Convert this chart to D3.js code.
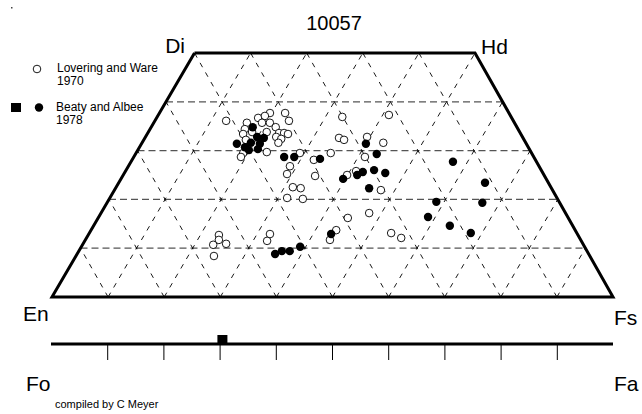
<!DOCTYPE html>
<html>
<head>
<meta charset="utf-8">
<script src="https://cdn.jsdelivr.net/npm/d3@7"></script>
<style>
  body { margin: 0; background: #fff; }
  text { font-family: "Liberation Sans", Arial, sans-serif; fill: #000; }
</style>
</head>
<body>
<div id="chart"></div>
<script>
// Chart size
const width = 642,
      height = 414;

// Lovering and Ware 1970 (open circles): Wo and Fs in mol %
const lwWo = [36.1, 37.7, 37.7, 36.1, 35.7, 36.7, 37.1, 35.7, 35.7, 34.4, 33.8, 33.8, 33.4, 32.2, 29.5,
              28.7, 29.7, 34.8, 33.6, 33.6, 33.4, 32.8, 32.4, 31.6, 29.5, 26.8, 25.2, 28.1, 24.8, 22.5,
              22.3, 36.9, 37.3, 32.6, 32.2, 32.8, 31.6, 29.5, 28.7, 25.0, 25.8, 20.3, 20.1, 21.9, 16.2,
              17.2, 13.7, 11.7, 13.1, 12.1, 12.7, 11.7, 10.7, 10.9, 8.4, 12.9, 11.5];
const lwFs = [12.7, 19.7, 22.4, 23.9, 16.6, 18.1, 19.1, 19.3, 20.7, 16.9, 18.5, 21.1, 17.1, 18.2, 19.1,
              19.1, 23.2, 22.2, 23.4, 24.3, 25.1, 23.3, 24.4, 24.3, 29.2, 28.8, 29.1, 32.4, 34.3, 31.5,
              33.0, 33.0, 41.1, 34.6, 35.7, 39.5, 43.0, 34.7, 41.2, 39.9, 41.1, 31.6, 34.5, 47.5, 44.5,
              47.8, 43.7, 43.6, 53.8, 56.1, 23.3, 23.8, 23.3, 25.5, 24.6, 32.3, 32.5];

// Beaty and Albee 1978 (filled circles)
const baWo = [34.8, 32.8, 32.6, 31.4, 31.6, 30.7, 30.1, 30.3, 31.4, 28.7, 28.7, 28.3, 31.4, 29.3, 24.2, 25.0,
              25.6, 26.0, 25.4, 22.3, 27.7, 23.4, 19.5, 19.3, 16.4, 14.6, 13.1, 12.9, 8.8, 9.4, 9.4, 10.3];
const baFs = [18.1, 19.9, 21.2, 17.0, 19.4, 18.8, 19.8, 21.3, 21.1, 26.8, 28.6, 33.4, 40.0, 43.0, 39.6, 41.7,
              42.4, 44.2, 46.5, 45.2, 57.4, 65.3, 58.6, 66.9, 58.7, 63.5, 68.0, 43.2, 35.3, 36.2, 37.6, 39.0];

// Olivine (Beaty and Albee), Fa mol %
const olivineFa = [30.5];

// Grid steps and labels
const gridSteps = [10, 20, 30, 40, 50, 60, 70, 80, 90];
const woSteps = [10, 20, 30, 40];
const cornerLabels = ["Di", "Hd", "En", "Fs"];

const svg = d3.select("#chart").append("svg")
    .attr("width", width)
    .attr("height", height);

// Ternary projection built from linear scales
const fsScale = d3.scaleLinear().domain([0, 100]).range([52, 613]);
const woY = d3.scaleLinear().domain([0, 50]).range([297, 53]);
const woShift = d3.scaleLinear().domain([0, 50]).range([0, 142.5]);
const px = (wo, fs) => fsScale(fs) + woShift(wo);
const py = wo => woY(wo);

const line = d3.line().x(d => px(d[0], d[1])).y(d => py(d[0]));

// Horizontal Wo lines
woSteps.forEach(w => {
    svg.append("path")
        .attr("d", line([[w, 0], [w, 100 - w]]))
        .style("fill", "none")
        .style("stroke", "#555")
        .style("stroke-width", 1.2)
        .style("stroke-dasharray", "7,4");
});

// Diagonal lines: constant Fs and constant En
gridSteps.forEach(v => {
    const top1 = Math.min(50, 100 - v);
    svg.append("path")
        .attr("d", line([[0, v], [top1, v]]))
        .attr("class", "diag");
    svg.append("path")
        .attr("d", line([[0, 100 - v], [top1, 100 - v - top1]]))
        .attr("class", "diag");
});
svg.selectAll(".diag")
    .style("fill", "none")
    .style("stroke", "#000")
    .style("stroke-width", 0.9)
    .style("stroke-dasharray", "5,6");

// Quadrilateral outline
svg.append("path")
    .attr("d", line([[50, 0], [0, 0], [0, 100], [50, 50], [50, 0]]))
    .style("fill", "none")
    .style("stroke", "#000")
    .style("stroke-width", 3)
    .style("stroke-linejoin", "miter");

// Data points
svg.selectAll(".lw")
    .data(lwWo.map((w, i) => [w, lwFs[i]]))
    .enter().append("circle")
    .attr("class", "lw")
    .attr("cx", d => px(d[0], d[1]))
    .attr("cy", d => py(d[0]))
    .attr("r", 3.8)
    .style("fill", "#fff")
    .style("stroke", "#000")
    .style("stroke-width", 0.9);

svg.selectAll(".ba")
    .data(baWo.map((w, i) => [w, baFs[i]]))
    .enter().append("circle")
    .attr("class", "ba")
    .attr("cx", d => px(d[0], d[1]))
    .attr("cy", d => py(d[0]))
    .attr("r", 4.2)
    .style("fill", "#000");

// Corner labels
const labelPos = [[185, 53, "end"], [481, 54, "start"], [23, 321, "start"], [614, 325, "start"]];
cornerLabels.forEach((t, i) => {
    svg.append("text")
        .attr("x", labelPos[i][0])
        .attr("y", labelPos[i][1])
        .attr("text-anchor", labelPos[i][2])
        .style("font-size", "21px")
        .text(t);
});

// Title
svg.append("text")
    .attr("x", 334)
    .attr("y", 30)
    .attr("text-anchor", "middle")
    .style("font-size", "20px")
    .text("10057");

// Olivine axis
const faScale = d3.scaleLinear().domain([0, 100]).range([51, 613]);
const olAxis = svg.append("g")
    .attr("transform", "translate(0,344)")
    .call(d3.axisBottom(faScale).tickValues(gridSteps).tickSize(16).tickFormat(""));
olAxis.select(".domain").remove();
olAxis.selectAll(".tick line").style("stroke", "#000").style("stroke-width", 1);

svg.append("line")
    .attr("x1", faScale(0)).attr("x2", faScale(100))
    .attr("y1", 344).attr("y2", 344)
    .style("stroke", "#000")
    .style("stroke-width", 3);

svg.selectAll(".ol")
    .data(olivineFa)
    .enter().append("rect")
    .attr("class", "ol")
    .attr("x", d => faScale(d) - 5)
    .attr("y", 335)
    .attr("width", 10)
    .attr("height", 10)
    .style("fill", "#000");

svg.append("text").attr("x", 26).attr("y", 391).style("font-size", "21px").text("Fo");
svg.append("text").attr("x", 614).attr("y", 391).style("font-size", "21px").text("Fa");

// Legend
const legend = svg.append("g").attr("class", "legend");
legend.append("circle")
    .attr("cx", 37).attr("cy", 69).attr("r", 3.8)
    .style("fill", "#fff").style("stroke", "#000").style("stroke-width", 0.9);
legend.append("text").attr("x", 57).attr("y", 72).style("font-size", "12px").text("Lovering and Ware");
legend.append("text").attr("x", 57).attr("y", 85).style("font-size", "12px").text("1970");
legend.append("rect")
    .attr("x", 11).attr("y", 103).attr("width", 10).attr("height", 9)
    .style("fill", "#000");
legend.append("circle")
    .attr("cx", 39).attr("cy", 107.5).attr("r", 4.2)
    .style("fill", "#000");
legend.append("text").attr("x", 56).attr("y", 111).style("font-size", "12px").text("Beaty and Albee");
legend.append("text").attr("x", 56).attr("y", 124).style("font-size", "12px").text("1978");

// Small stray mark at top left
svg.append("rect")
    .attr("x", 11).attr("y", 7).attr("width", 1.5).attr("height", 1.5)
    .style("fill", "#444");

// Footer
svg.append("text")
    .attr("x", 55)
    .attr("y", 408)
    .style("font-size", "11px")
    .text("compiled by C Meyer");
</script>
</body>
</html>
